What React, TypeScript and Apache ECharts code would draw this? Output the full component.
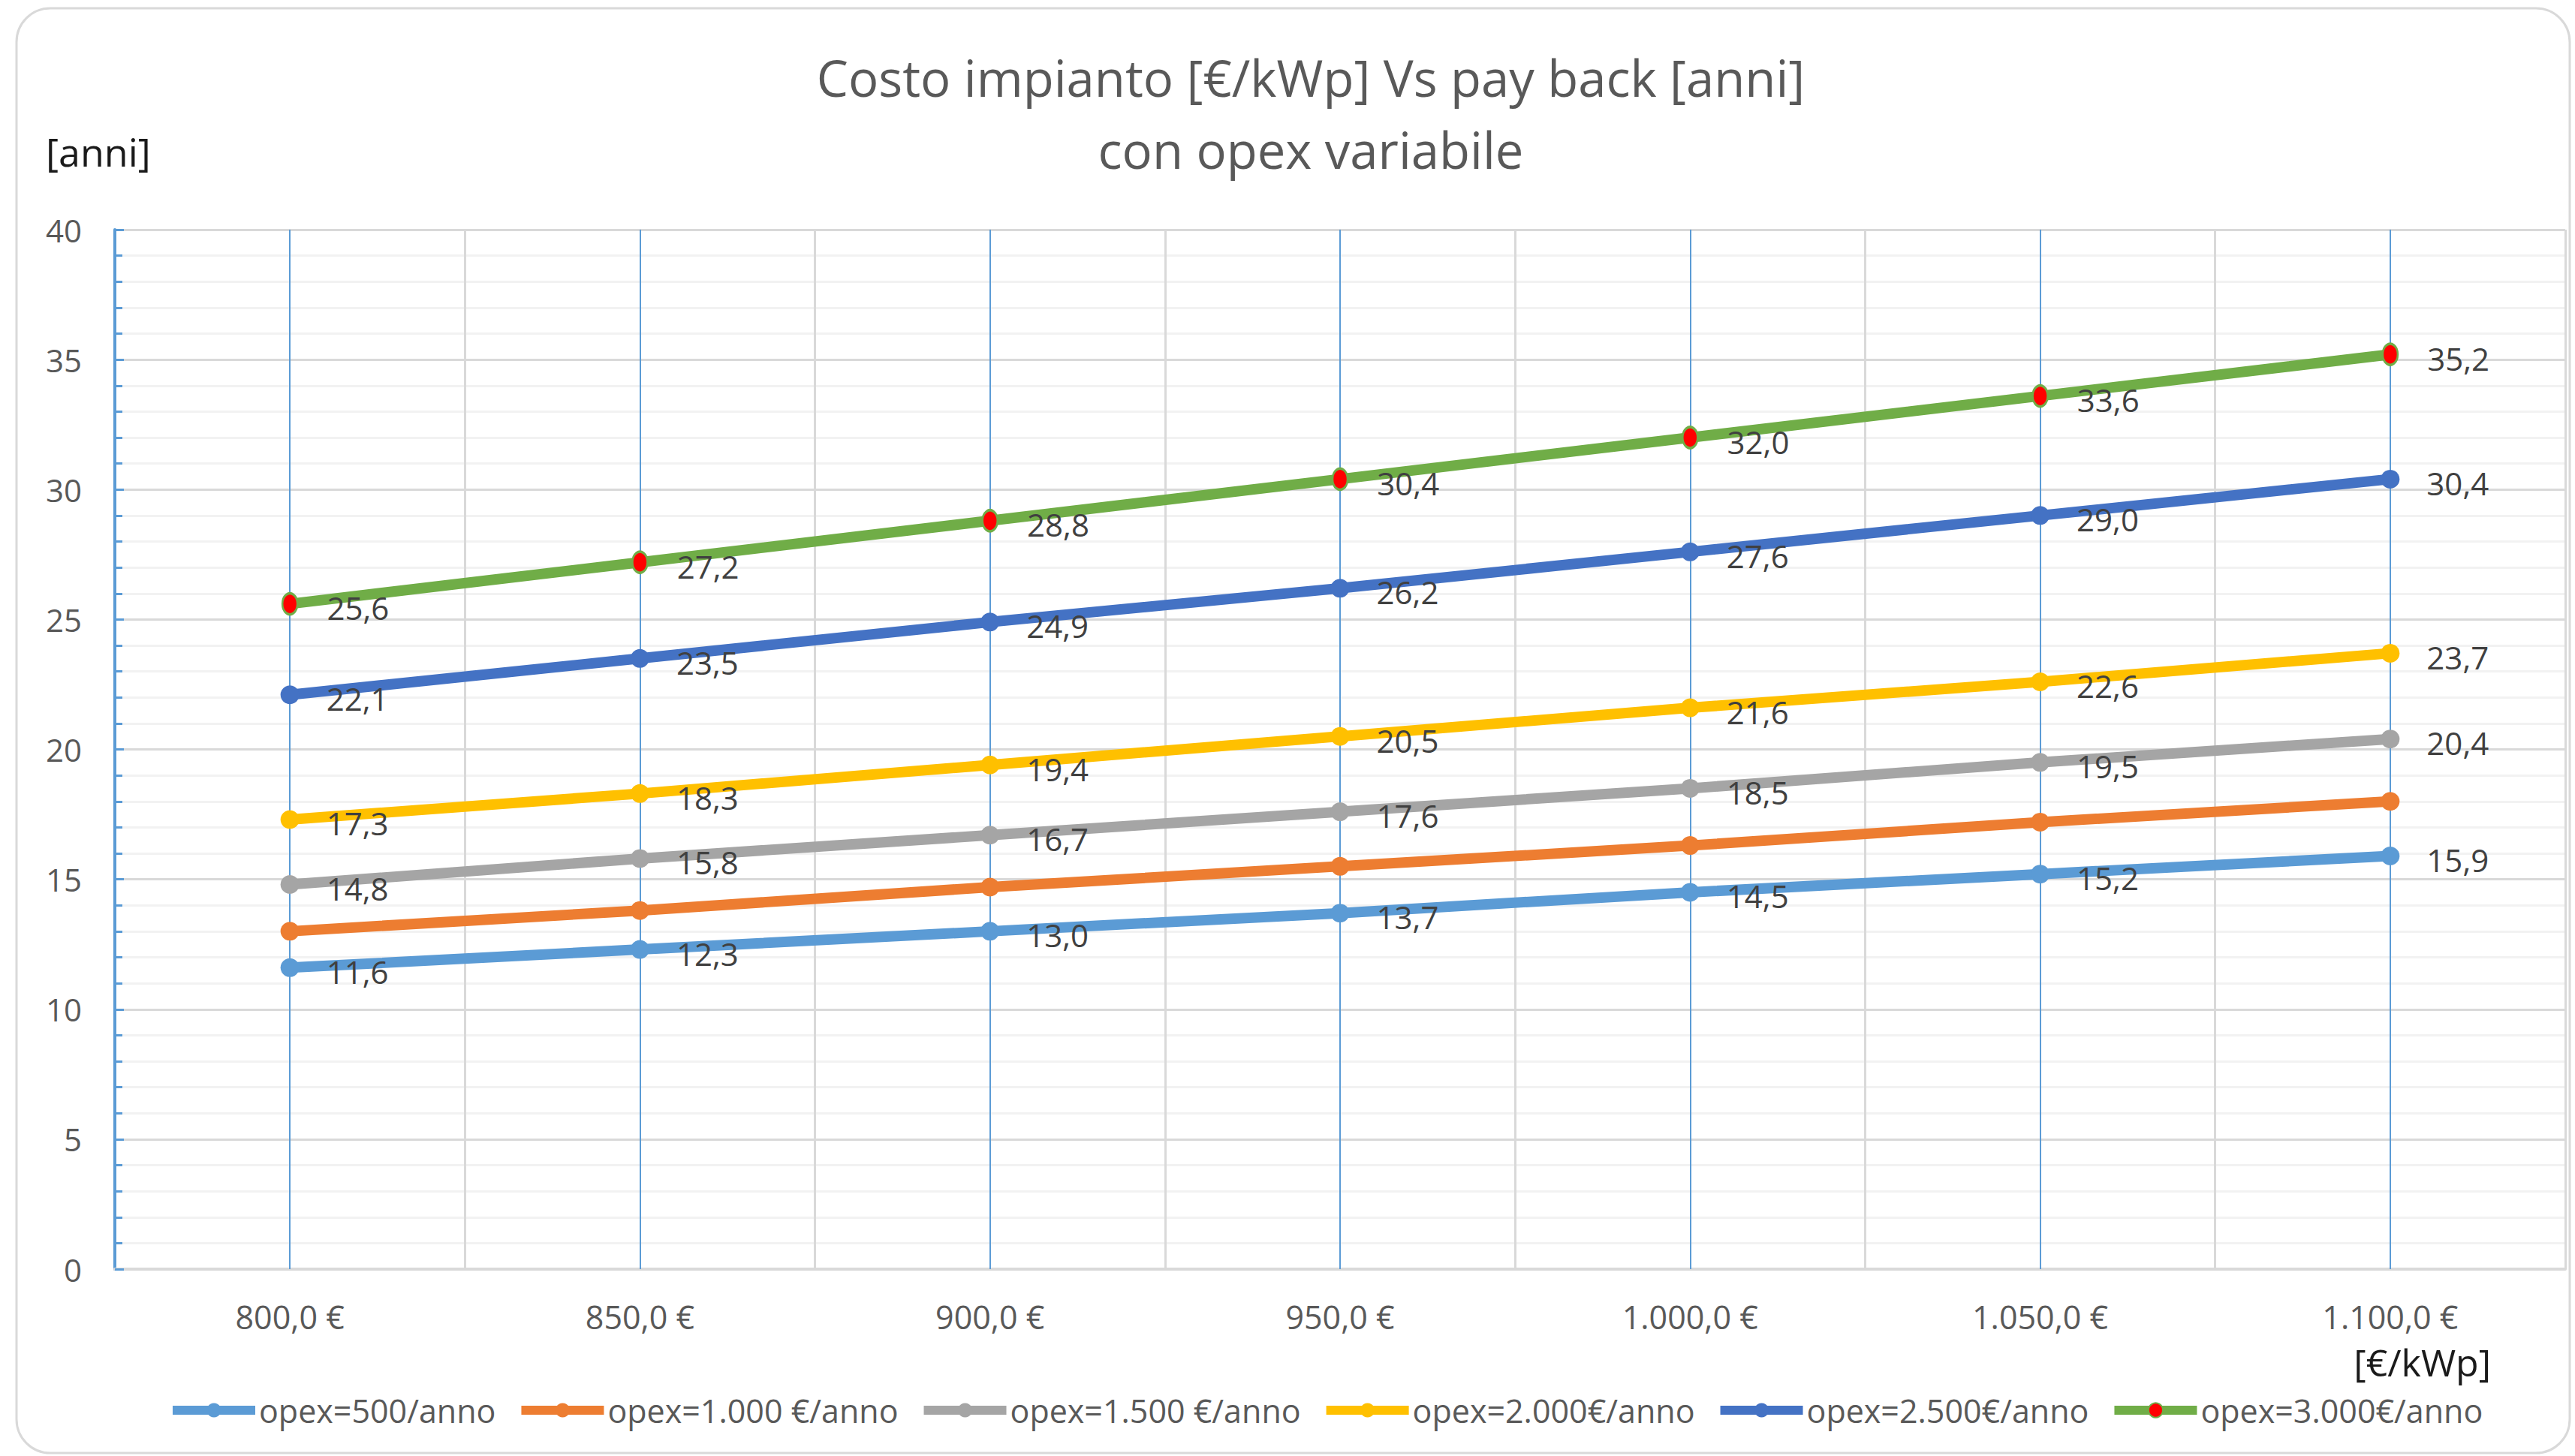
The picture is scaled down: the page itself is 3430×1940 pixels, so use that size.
import React, { useEffect, useRef } from "react";
import * as echarts from "echarts";

const categories = [800, 850, 900, 950, 1000, 1050, 1100];
const opex500 = [11.6, 12.3, 13.0, 13.7, 14.5, 15.2, 15.9];
const opex1000 = [13.0, 13.8, 14.7, 15.5, 16.3, 17.2, 18.0];
const opex1500 = [14.8, 15.8, 16.7, 17.6, 18.5, 19.5, 20.4];
const opex2000 = [17.3, 18.3, 19.4, 20.5, 21.6, 22.6, 23.7];
const opex2500 = [22.1, 23.5, 24.9, 26.2, 27.6, 29.0, 30.4];
const opex3000 = [25.6, 27.2, 28.8, 30.4, 32.0, 33.6, 35.2];

const seriesNames = [
  "opex=500/anno",
  "opex=1.000 €/anno",
  "opex=1.500 €/anno",
  "opex=2.000€/anno",
  "opex=2.500€/anno",
  "opex=3.000€/anno",
];
const seriesData = [opex500, opex1000, opex1500, opex2000, opex2500, opex3000];
const seriesColors = ["#5B9BD5", "#ED7D31", "#A5A5A5", "#FFC000", "#4472C4", "#70AD47"];
const seriesShowLabels = [true, false, true, true, true, true];

const yMin = 0;
const yMax = 40;
const yInterval = 5;

const titleText = "Costo impianto [€/kWp] Vs pay back [anni]\ncon opex variabile";
const yName = "[anni]";
const xName = "[€/kWp]";

const FONT = "'Open Sans', 'Noto Sans', sans-serif";

function fmtEuro(n: number): string {
  const s = String(Math.floor(n)).replace(/\B(?=(\d{3})+(?!\d))/g, ".");
  return s + ",0 €";
}
function fmtVal(v: number): string {
  return v.toFixed(1).replace(".", ",");
}

export default function App() {
  const ref = useRef<HTMLDivElement>(null);

  useEffect(() => {
    if (!ref.current) return;
    const chart = echarts.init(ref.current, undefined, { renderer: "svg" });

    const series: any[] = seriesData.map((data, i) => {
      const isGreen = i === 5;
      return {
        name: seriesNames[i],
        type: "line",
        data,
        z: 3 + i,
        symbol: "circle",
        symbolSize: isGreen ? [20, 28] : 25,
        lineStyle: { color: seriesColors[i], width: 14 },
        itemStyle: isGreen
          ? { color: "#FF0000", borderColor: seriesColors[i], borderWidth: 3 }
          : { color: seriesColors[i] },
        label: {
          show: seriesShowLabels[i],
          position: "right",
          distance: isGreen ? 38 : 36,
          offset: [0, 5],
          formatter: (p: any) => fmtVal(p.value),
          fontFamily: FONT,
          fontSize: 42,
          color: "#404040",
        },
      };
    });

    chart.setOption({
      animation: false,
      backgroundColor: "#FFFFFF",
      graphic: [
        {
          type: "rect",
          shape: { x: 22, y: 11, width: 3401, height: 1925, r: 45 },
          style: { fill: "none", stroke: "#D9D9D9", lineWidth: 3 },
          z: -10,
          silent: true,
        },
        {
          type: "text",
          x: 1746,
          y: 55,
          style: {
            text: titleText,
            fontFamily: FONT,
            fontSize: 67,
            lineHeight: 96,
            fill: "#595959",
            align: "center",
            verticalAlign: "top",
          },
        },
        {
          type: "text",
          x: 61,
          y: 201,
          style: {
            text: yName,
            fontFamily: FONT,
            fontSize: 52,
            fill: "#1a1a1a",
            align: "left",
            verticalAlign: "middle",
          },
        },
        {
          type: "text",
          x: 3318,
          y: 1815,
          style: {
            text: xName,
            fontFamily: FONT,
            fontSize: 50,
            lineHeight: 44,
            fill: "#1a1a1a",
            align: "right",
            verticalAlign: "middle",
          },
        },
      ],
      grid: { left: 153, top: 306, width: 3264, height: 1385, containLabel: false },
      xAxis: {
        type: "category",
        boundaryGap: true,
        data: categories.map(fmtEuro),
        axisLine: { show: true, lineStyle: { color: "#D9D9D9", width: 4 } },
        axisTick: {
          show: true,
          alignWithLabel: true,
          inside: true,
          length: 1385,
          lineStyle: { color: "#5B9BD5", width: 2 },
        },
        splitLine: { show: true, lineStyle: { color: "#D9D9D9", width: 3 } },
        axisLabel: {
          margin: 43,
          fontFamily: FONT,
          fontSize: 43,
          lineHeight: 40,
          color: "#595959",
        },
      },
      yAxis: {
        type: "value",
        min: yMin,
        max: yMax,
        interval: yInterval,
        axisLine: { show: true, lineStyle: { color: "#5B9BD5", width: 4 } },
        axisTick: { show: true, inside: true, length: 12, lineStyle: { color: "#5B9BD5", width: 3 } },
        minorTick: { show: true, splitNumber: 5, length: 10, lineStyle: { color: "#5B9BD5", width: 3 } },
        splitLine: { show: true, lineStyle: { color: "#D9D9D9", width: 3 } },
        minorSplitLine: { show: true, lineStyle: { color: "#F2F2F2", width: 3 } },
        axisLabel: {
          margin: 44,
          fontFamily: FONT,
          fontSize: 42,
          color: "#595959",
        },
      },
      legend: {
        data: seriesNames,
        left: 219,
        top: 1852,
        itemWidth: 110,
        itemHeight: 24,
        itemGap: 28,
        lineStyle: { width: 12 },
        textStyle: { fontFamily: FONT, fontSize: 43, lineHeight: 44, color: "#595959" },
      },
      series,
    });

    return () => chart.dispose();
  }, []);

  return (
    <div
      ref={ref}
      style={{ position: "fixed", left: 0, top: 0, width: 3430, height: 1940 }}
    />
  );
}
